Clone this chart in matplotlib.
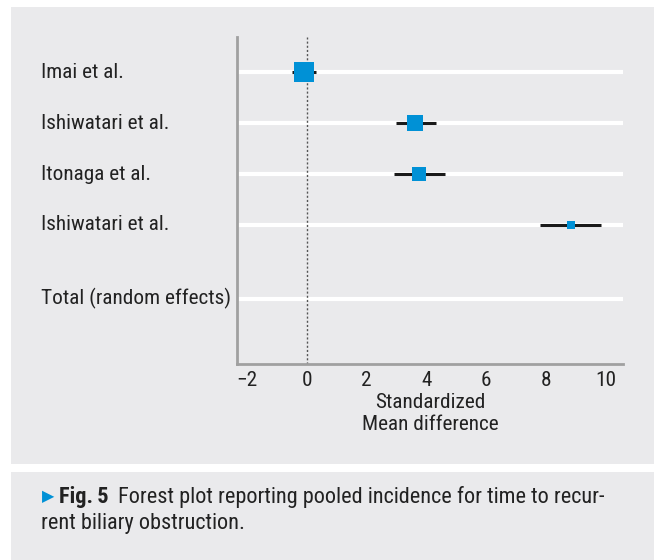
import numpy as np
import matplotlib.pyplot as plt
from matplotlib.patches import Rectangle
from matplotlib.transforms import blended_transform_factory

plt.rcParams['font.family'] = ['Roboto Condensed', 'DejaVu Sans']

#data
studies = ["Imai et al.", "Ishiwatari et al.", "Itonaga et al.", "Ishiwatari et al."]
smd = [-0.1, 3.63, 3.74, 8.82]
ci_low = [-0.5, 2.97, 2.91, 7.81]
ci_high = [0.3, 4.30, 4.62, 9.83]
weights = [42.5, 30.1, 19.9, 7.5]
total_label = "Total (random effects)"
xticks = [-2, 0, 2, 4, 6, 8, 10]

W, H = 654, 560
fig = plt.figure(figsize=(W / 100, H / 100), dpi=100)
fig.patch.set_facecolor("white")

panel = "#EAEAEC"
#background panels (figure pixels)
fig.patches.append(Rectangle((11 / W, (H - 464) / H), (W - 11) / W, (464 - 7) / H,
                             transform=fig.transFigure, facecolor=panel, edgecolor="none", zorder=-5))
fig.patches.append(Rectangle((11 / W, 0), (W - 11) / W, (H - 472) / H,
                             transform=fig.transFigure, facecolor=panel, edgecolor="none", zorder=-5))

left, right, top, bottom = 237, 623, 37, 364
ax = fig.add_axes([left / W, (H - bottom) / H, (right - left) / W, (bottom - top) / H])
ax.set_facecolor("none")

rows = [5, 4, 3, 2]
total_row = 0.55
ax.set_xlim(-2.34, 10.57)
ax.set_ylim(-0.73, 5.69)

fs = 15.3
txt = "#222222"

#white row lines
for r in rows + [total_row]:
    ax.axhline(r, color="white", lw=3, zorder=1)

ax.axvline(0, color="#555555", lw=1, ls=(0, (1.5, 1.5)), zorder=2)

for r, m, lo, hi, w in zip(rows, smd, ci_low, ci_high, weights):
    ax.plot([lo, hi], [r, r], color="#1a1a1a", lw=2.2, solid_capstyle="butt", zorder=3)
    ax.plot(m, r, marker="s", color="#0091D6", markeredgewidth=0,
            markersize=2.1 * np.sqrt(w), zorder=4)

trans = blended_transform_factory(fig.transFigure, ax.transData)
for r, name in zip(rows + [total_row], studies + [total_label]):
    ax.text(41 / W, r, name, transform=trans, ha="left", va="center",
            fontsize=fs, color=txt)

for s in ["top", "right"]:
    ax.spines[s].set_visible(False)
for s in ["left", "bottom"]:
    ax.spines[s].set_color("#A0A0A0")
    ax.spines[s].set_linewidth(2)

ax.set_yticks([])
ax.set_xticks(xticks)
ax.set_xticklabels(["\u2212" + str(-t) if t < 0 else str(t) for t in xticks])
ax.tick_params(axis="x", length=0, pad=5, labelsize=fs, labelcolor=txt)
ax.set_xlabel("Standardized\nMean difference", fontsize=fs, color=txt,
              labelpad=2, linespacing=1.2)

#caption
cap_fs = 16
fig.text(42 / W, 1 - 497 / H, "\u25B6", color="#0091D6", fontsize=11.5,
         family=["DejaVu Sans"], va="center", ha="left")
fig.text(59 / W, 1 - 497 / H, "Fig.\u20095", fontweight="bold", fontsize=cap_fs,
         color=txt, va="center", ha="left")
fig.text(118 / W, 1 - 497 / H, "Forest plot reporting pooled incidence for time to recur-",
         fontsize=cap_fs, color=txt, va="center", ha="left")
fig.text(41 / W, 1 - 523 / H, "rent biliary obstruction.",
         fontsize=cap_fs, color=txt, va="center", ha="left")

fig.savefig("out.png", dpi=100, facecolor=fig.get_facecolor())
